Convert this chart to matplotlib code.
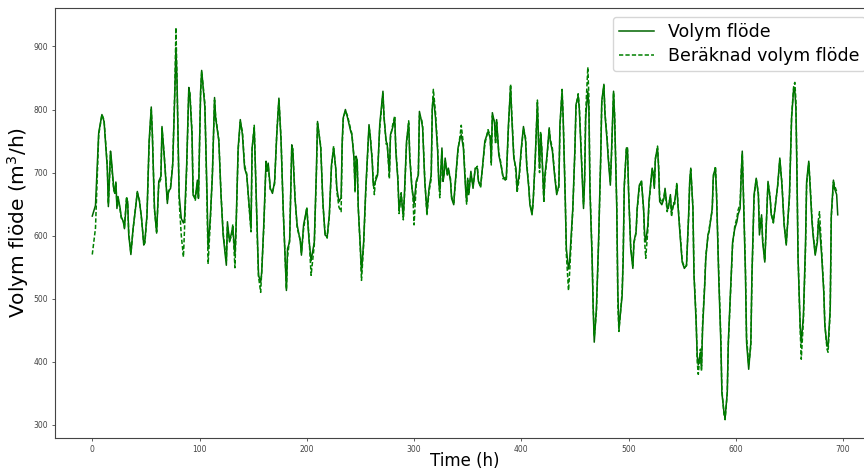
import matplotlib
matplotlib.use("Agg")
import matplotlib.pyplot as plt

# Hourly flow record (m3/h): measured flow and the model's estimate
hours = [
    0, 3, 6, 9, 11, 14, 15, 17, 18, 20, 21, 22, 23, 24, 26, 27, 29, 30, 32, 33,
    34, 36, 38, 40, 42, 44, 46, 48, 49, 51, 53, 55, 56, 58, 60, 62, 64, 65, 67, 70,
    71, 73, 75, 77, 78, 79, 81, 83, 85, 86, 88, 90, 91, 93, 94, 96, 98, 99, 101, 102,
    105, 107, 108, 110, 112, 114, 115, 118, 120, 122, 125, 126, 128, 130, 131, 133, 134, 136, 138, 140,
    142, 144, 146, 148, 149, 151, 152, 154, 155, 157, 158, 160, 162, 163, 164, 166, 168, 170, 172, 174,
    176, 178, 181, 182, 184, 186, 187, 189, 191, 194, 195, 197, 200, 202, 204, 207, 209, 210, 213, 215,
    217, 219, 221, 223, 225, 227, 228, 230, 232, 233, 234, 236, 238, 241, 242, 244, 245, 246, 247, 248,
    250, 251, 253, 255, 258, 259, 261, 262, 263, 264, 266, 268, 271, 272, 274, 275, 277, 278, 280, 282,
    283, 285, 286, 288, 290, 291, 293, 295, 296, 298, 299, 300, 302, 304, 305, 307, 308, 310, 312, 314,
    316, 317, 318, 320, 322, 323, 324, 326, 327, 328, 329, 331, 332, 334, 335, 337, 338, 341, 343, 344,
    346, 348, 349, 350, 351, 353, 355, 357, 359, 360, 362, 364, 366, 369, 371, 372, 373, 375, 376, 377,
    379, 381, 383, 385, 386, 388, 390, 391, 393, 395, 396, 398, 400, 402, 404, 405, 407, 408, 410, 411,
    413, 415, 416, 417, 418, 419, 421, 422, 424, 426, 427, 429, 431, 433, 435, 436, 438, 439, 441, 442,
    444, 445, 448, 450, 451, 453, 454, 456, 458, 459, 460, 462, 463, 464, 466, 467, 468, 470, 472, 474,
    475, 477, 478, 480, 481, 483, 484, 486, 487, 489, 490, 491, 494, 495, 496, 498, 499, 500, 502, 504,
    505, 507, 508, 510, 512, 514, 515, 516, 518, 519, 522, 523, 524, 525, 527, 528, 529, 531, 533, 534,
    536, 537, 539, 540, 542, 543, 545, 546, 548, 550, 552, 554, 556, 557, 558, 560, 561, 563, 564, 565,
    567, 568, 569, 571, 572, 574, 575, 578, 579, 581, 582, 584, 586, 587, 589, 590, 592, 593, 595, 597,
    599, 601, 602, 604, 605, 606, 607, 609, 610, 612, 614, 615, 617, 619, 621, 622, 624, 625, 627, 629,
    630, 632, 633, 635, 637, 639, 641, 643, 645, 647, 650, 652, 654, 655, 656, 657, 658, 660, 661, 663,
    665, 666, 668, 669, 671, 672, 674, 676, 677, 678, 680, 682, 683, 685, 686, 688, 689, 691, 692, 694,
    695,
]

measured = [
    631, 648, 763, 792, 781, 707, 646, 734, 718, 675, 667, 685, 643, 662, 643, 630, 622, 611, 659, 654,
    601, 570, 611, 638, 670, 654, 627, 585, 590, 633, 750, 804, 760, 643, 604, 686, 694, 773, 728, 651,
    670, 675, 712, 829, 898, 845, 664, 627, 620, 627, 712, 835, 824, 760, 664, 659, 688, 659, 829, 862,
    803, 665, 579, 627, 696, 819, 787, 750, 665, 601, 553, 622, 590, 606, 614, 569, 611, 739, 784, 760,
    707, 696, 654, 611, 739, 771, 712, 590, 537, 526, 542, 622, 718, 702, 715, 675, 667, 686, 760, 818,
    750, 643, 513, 579, 590, 744, 734, 659, 617, 590, 569, 617, 643, 595, 560, 590, 707, 781, 739, 654,
    601, 598, 633, 712, 739, 707, 675, 654, 660, 750, 787, 800, 787, 765, 760, 723, 675, 726, 718, 643,
    579, 542, 590, 675, 776, 760, 718, 680, 680, 686, 696, 776, 829, 787, 750, 744, 699, 760, 771, 787,
    734, 686, 641, 665, 630, 665, 750, 779, 723, 675, 665, 650, 686, 696, 797, 781, 771, 686, 638, 675,
    696, 803, 820, 787, 734, 686, 670, 739, 686, 696, 723, 696, 707, 686, 659, 649, 675, 739, 755, 760,
    739, 675, 654, 691, 665, 702, 675, 707, 707, 686, 678, 712, 750, 765, 755, 718, 795, 779, 750, 784,
    728, 712, 694, 688, 691, 776, 837, 792, 723, 707, 675, 696, 739, 773, 750, 712, 675, 649, 633, 654,
    723, 811, 750, 707, 760, 739, 659, 696, 728, 771, 750, 734, 696, 665, 680, 776, 829, 787, 654, 579,
    547, 558, 643, 739, 808, 821, 803, 723, 643, 686, 787, 829, 803, 670, 564, 484, 431, 484, 590, 723,
    813, 840, 792, 750, 723, 680, 728, 829, 787, 643, 510, 452, 505, 564, 680, 739, 739, 670, 579, 548,
    590, 606, 643, 680, 686, 643, 601, 590, 617, 654, 707, 696, 675, 723, 739, 707, 654, 649, 659, 675,
    643, 643, 665, 638, 649, 654, 680, 649, 601, 558, 548, 553, 633, 686, 707, 643, 537, 462, 409, 395,
    415, 393, 452, 521, 564, 601, 606, 643, 696, 707, 665, 537, 431, 351, 319, 311, 351, 431, 510, 590,
    611, 622, 633, 643, 696, 734, 670, 537, 431, 388, 431, 537, 665, 691, 665, 601, 633, 590, 558, 643,
    686, 659, 633, 622, 649, 680, 723, 680, 617, 585, 665, 787, 835, 830, 803, 696, 564, 457, 430, 473,
    590, 686, 718, 686, 622, 601, 569, 590, 622, 615, 569, 510, 457, 425, 425, 484, 633, 688, 675, 665,
    633,
]

predicted = [
    570, 612, 760, 792, 783, 712, 650, 728, 712, 672, 668, 683, 650, 660, 640, 628, 622, 613, 662, 650,
    604, 572, 608, 640, 668, 656, 625, 588, 588, 630, 745, 800, 765, 640, 606, 682, 690, 770, 730, 655,
    668, 678, 715, 835, 930, 850, 655, 600, 566, 610, 705, 830, 828, 765, 670, 655, 685, 662, 825, 860,
    810, 650, 555, 620, 700, 815, 790, 752, 668, 605, 560, 615, 592, 600, 618, 549, 605, 735, 780, 765,
    712, 698, 650, 606, 735, 775, 715, 588, 535, 510, 545, 615, 715, 706, 712, 672, 670, 682, 762, 815,
    755, 640, 515, 565, 595, 740, 738, 662, 612, 593, 572, 610, 645, 600, 537, 585, 700, 778, 742, 650,
    605, 596, 630, 708, 742, 705, 670, 645, 638, 740, 785, 798, 790, 768, 762, 725, 668, 722, 720, 645,
    575, 529, 585, 670, 772, 762, 722, 684, 665, 690, 700, 770, 825, 790, 745, 746, 690, 755, 775, 790,
    738, 690, 635, 668, 625, 660, 745, 782, 728, 678, 660, 617, 680, 698, 790, 785, 774, 690, 632, 670,
    690, 800, 832, 795, 740, 690, 660, 735, 690, 700, 718, 698, 705, 690, 662, 652, 672, 735, 760, 775,
    745, 680, 650, 688, 668, 698, 678, 705, 710, 688, 676, 710, 745, 768, 758, 712, 790, 782, 745, 780,
    732, 715, 690, 692, 688, 770, 840, 798, 728, 700, 668, 690, 735, 770, 755, 716, 678, 652, 635, 650,
    720, 815, 755, 700, 765, 742, 652, 690, 724, 768, 754, 738, 700, 668, 676, 770, 832, 792, 660, 570,
    513, 540, 640, 735, 805, 825, 808, 730, 650, 690, 795, 867, 820, 680, 570, 490, 440, 478, 585, 720,
    810, 838, 795, 755, 728, 686, 722, 827, 792, 648, 490, 448, 510, 570, 676, 740, 736, 672, 582, 552,
    588, 604, 640, 676, 688, 640, 590, 564, 610, 650, 705, 700, 678, 720, 742, 712, 660, 652, 662, 672,
    638, 646, 662, 630, 652, 650, 684, 652, 605, 560, 550, 552, 630, 684, 705, 645, 540, 470, 400, 380,
    420, 385, 460, 525, 568, 598, 610, 640, 690, 710, 670, 545, 440, 355, 316, 308, 350, 428, 505, 585,
    615, 628, 640, 650, 700, 730, 675, 545, 440, 395, 425, 530, 660, 690, 668, 610, 630, 595, 560, 640,
    684, 662, 636, 620, 652, 678, 720, 684, 620, 588, 660, 790, 838, 843, 815, 705, 570, 450, 404, 465,
    580, 680, 715, 690, 628, 605, 572, 595, 625, 638, 575, 515, 460, 420, 415, 480, 628, 685, 680, 670,
    672,
]

fig = plt.figure(figsize=(8.64, 4.71), dpi=100)
ax = fig.add_axes([55 / 864, 33 / 471, 820 / 864, 430 / 471])

ax.plot(hours, measured, color="darkgreen", lw=1.1, label="Volym flöde")
ax.plot(hours, predicted, color="green", lw=1.1, ls="--", dashes=(2.8, 1.4),
        label="Beräknad volym flöde")

ax.set_xlim(-34.75, 729.75)
ax.set_ylim(279, 961)
ax.set_xticks(range(0, 701, 100))
ax.set_yticks(range(300, 901, 100))
ax.tick_params(labelsize=5.5, length=2.5, width=0.6, colors="#444444", pad=2.5)
for s in ax.spines.values():
    s.set_color("#444444")
    s.set_linewidth(0.8)

ax.set_xlabel("Time (h)", fontsize=12, labelpad=-1.5)
ax.set_ylabel("Volym flöde (m$^3$/h)", fontsize=14.5, labelpad=2)

ax.legend(fontsize=12.5, loc="upper left", bbox_to_anchor=(613 / 864, 1 - 17 / 471),
          bbox_transform=fig.transFigure, borderaxespad=0, framealpha=0.8,
          edgecolor="#cccccc", handlelength=2.0, borderpad=0.35, labelspacing=0.35)

fig.savefig("out.png", dpi=100)
